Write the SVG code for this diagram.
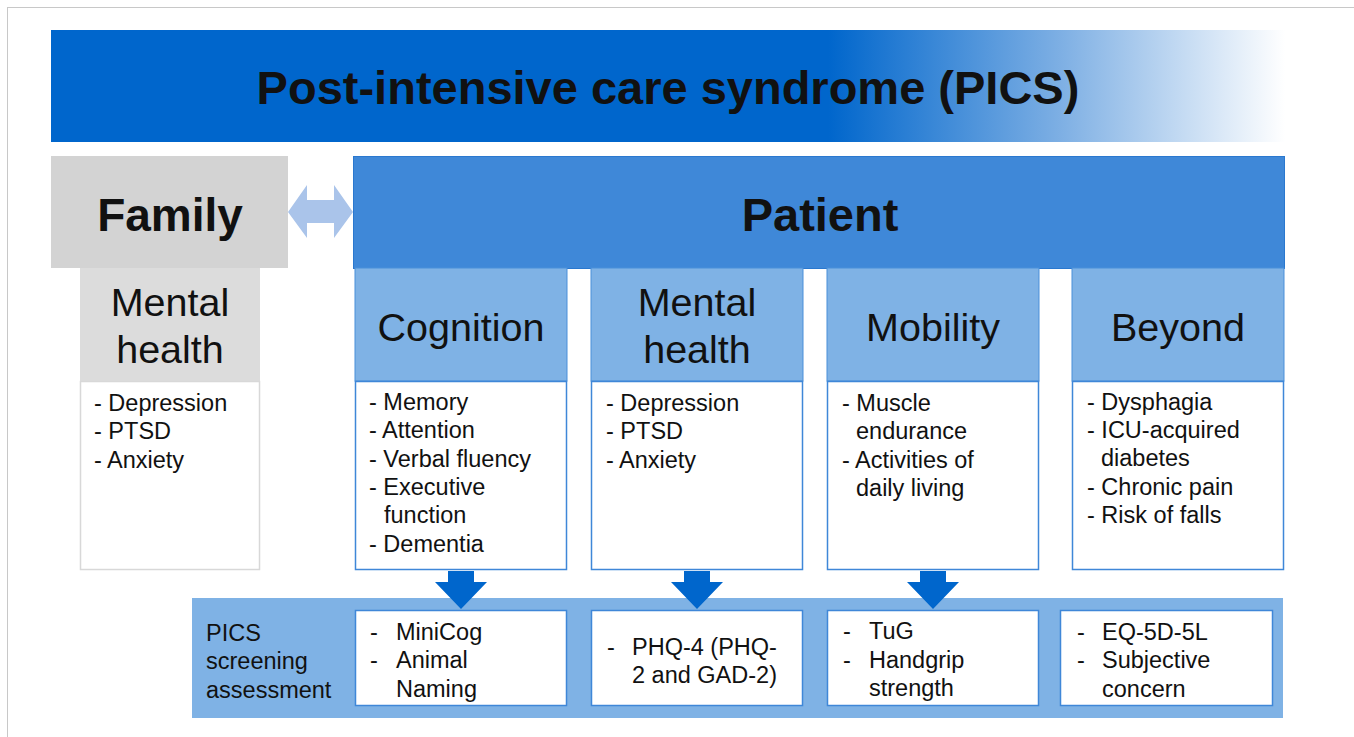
<svg xmlns="http://www.w3.org/2000/svg" width="1354" height="737" viewBox="0 0 1354 737">
<defs>
<linearGradient id="tg" gradientUnits="userSpaceOnUse" x1="51" y1="0" x2="1285" y2="0">
<stop offset="0" stop-color="#0066cc"/>
<stop offset="0.63" stop-color="#0066cc"/>
<stop offset="0.82" stop-color="#7fb0e4"/>
<stop offset="1" stop-color="#ffffff"/>
</linearGradient>
<style>
text{font-family:"Liberation Sans",Arial,sans-serif;fill:#111;}
.b{font-weight:bold;}
.hd{font-size:39.5px;text-anchor:middle;}
.li{font-size:23.5px;}
.sm{font-size:23.5px;}
.hdr{fill:#7fb2e5;stroke:#4a8fd9;stroke-width:1;}
.body{fill:#fff;stroke:#3f87d8;stroke-width:1.5;}
.arr{fill:#0066cc;}
</style>
</defs>
<rect x="0" y="0" width="1354" height="737" fill="#fff"/>
<rect x="7.5" y="7.5" width="1360" height="740" fill="none" stroke="#c8c8c8" stroke-width="1"/>

<g id="title">
<rect x="51" y="30" width="1234" height="112" fill="url(#tg)"/>
<text x="668" y="104" class="b" font-size="47" text-anchor="middle">Post-intensive care syndrome (PICS)</text>
</g>

<g id="family">
<rect x="51" y="156" width="237" height="112" fill="#d3d3d3"/>
<text x="170" y="231" class="b" font-size="46" text-anchor="middle">Family</text>
</g>
<g id="family-mental">
<rect x="80" y="268" width="180" height="113" fill="#dcdcdc"/>
<text x="170" y="316" class="hd">Mental</text>
<text x="170" y="363" class="hd">health</text>
<rect x="80.5" y="381.5" width="179" height="188" fill="#fff" stroke="#d8d8d8" stroke-width="1.5"/>
<text class="li" x="94" y="411">- Depression</text>
<text class="li" x="94" y="439">- PTSD</text>
<text class="li" x="94" y="468">- Anxiety</text>
</g>

<g id="patient">
<rect x="353.5" y="156.5" width="931" height="112" fill="#3f88d8" stroke="#2a78cf" stroke-width="1"/>
<text x="820" y="231" class="b" font-size="47" text-anchor="middle">Patient</text>
</g>

<g id="cognition">
<rect class="hdr" x="355" y="268" width="212" height="113"/>
<text x="461" y="341" class="hd">Cognition</text>
<rect class="body" x="355.5" y="381.5" width="211" height="188"/>
<text class="li" x="369" y="410">- Memory</text>
<text class="li" x="369" y="438">- Attention</text>
<text class="li" x="369" y="467">- Verbal fluency</text>
<text class="li" x="369" y="495">- Executive</text>
<text class="li" x="384" y="523">function</text>
<text class="li" x="369" y="552">- Dementia</text>
</g>

<g id="mental">
<rect class="hdr" x="591" y="268" width="212" height="113"/>
<text x="697" y="316" class="hd">Mental</text>
<text x="697" y="363" class="hd">health</text>
<rect class="body" x="591.5" y="381.5" width="211" height="188"/>
<text class="li" x="606" y="411">- Depression</text>
<text class="li" x="606" y="439">- PTSD</text>
<text class="li" x="606" y="468">- Anxiety</text>
</g>

<g id="mobility">
<rect class="hdr" x="827" y="268" width="212" height="113"/>
<text x="933" y="341" class="hd">Mobility</text>
<rect class="body" x="827.5" y="381.5" width="211" height="188"/>
<text class="li" x="842" y="411">- Muscle</text>
<text class="li" x="856" y="439">endurance</text>
<text class="li" x="842" y="468">- Activities of</text>
<text class="li" x="856" y="496">daily living</text>
</g>

<g id="beyond">
<rect class="hdr" x="1072" y="268" width="212" height="113"/>
<text x="1178" y="341" class="hd">Beyond</text>
<rect class="body" x="1072.5" y="381.5" width="211" height="188"/>
<text class="li" x="1087" y="410">- Dysphagia</text>
<text class="li" x="1087" y="438">- ICU-acquired</text>
<text class="li" x="1101" y="466">diabetes</text>
<text class="li" x="1087" y="495">- Chronic pain</text>
<text class="li" x="1087" y="523">- Risk of falls</text>
</g>

<g id="screening">
<rect x="192" y="598" width="1091" height="120" fill="#7fb2e5"/>
<text class="sm" x="206" y="641">PICS</text>
<text class="sm" x="206" y="669">screening</text>
<text class="sm" x="206" y="698">assessment</text>
</g>
<g id="scr-cognition">
<rect class="body" x="355.5" y="610.5" width="211" height="95"/>
<text class="li" x="370" y="640">-</text><text class="li" x="396" y="640">MiniCog</text>
<text class="li" x="370" y="668">-</text><text class="li" x="396" y="668">Animal</text>
<text class="li" x="396" y="697">Naming</text>
</g>
<g id="scr-mental">
<rect class="body" x="591.5" y="610.5" width="211" height="95"/>
<text class="li" x="607" y="655">-</text><text class="li" x="632" y="655">PHQ-4 (PHQ-</text>
<text class="li" x="632" y="683">2 and GAD-2)</text>
</g>
<g id="scr-mobility">
<rect class="body" x="827.5" y="610.5" width="211" height="95"/>
<text class="li" x="843" y="639">-</text><text class="li" x="869" y="639">TuG</text>
<text class="li" x="843" y="668">-</text><text class="li" x="869" y="668">Handgrip</text>
<text class="li" x="869" y="696">strength</text>
</g>
<g id="scr-beyond">
<rect class="body" x="1060.5" y="610.5" width="212" height="95"/>
<text class="li" x="1077" y="640">-</text><text class="li" x="1102" y="640">EQ-5D-5L</text>
<text class="li" x="1077" y="668">-</text><text class="li" x="1102" y="668">Subjective</text>
<text class="li" x="1102" y="697">concern</text>
</g>

<g id="connectors">
<polygon points="288,212 307,185 307,200 334,200 334,185 353,212 334,238 334,223 307,223 307,238" fill="#aac4ea"/>
<polygon class="arr" points="448,571 474,571 474,582 487,582 461,609 435,582 448,582"/>
<polygon class="arr" points="684,571 710,571 710,582 723,582 697,609 671,582 684,582"/>
<polygon class="arr" points="920,571 946,571 946,582 959,582 933,609 907,582 920,582"/>
</g>
</svg>
